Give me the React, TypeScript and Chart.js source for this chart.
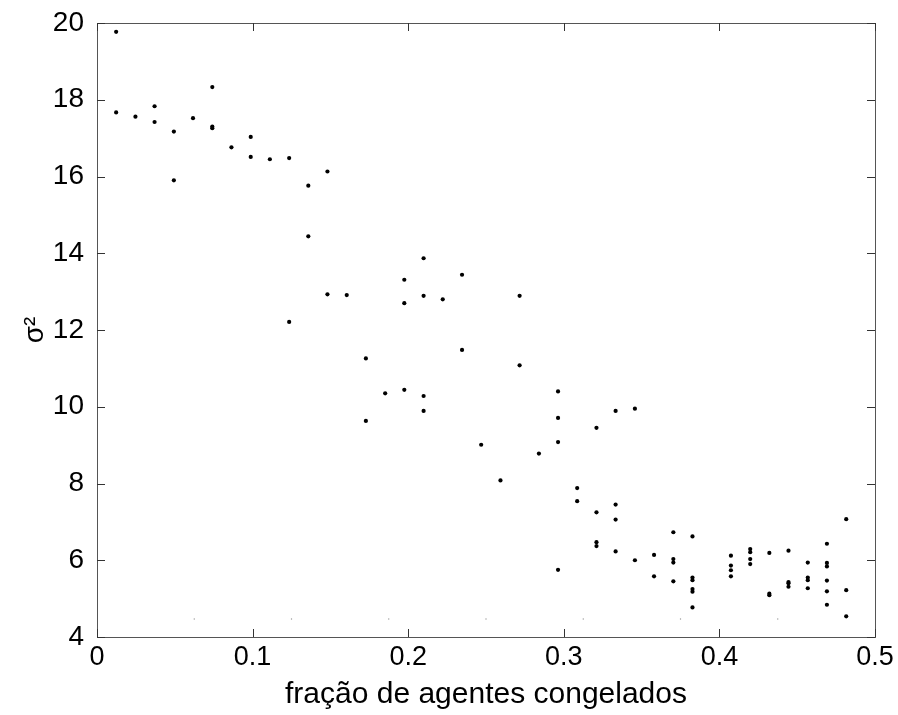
import React, { useEffect, useRef } from "react";
import { Chart, registerables } from "chart.js";

Chart.register(...registerables);

// fraction of frozen agents (x) and sigma^2 (y)
const fractionFrozen: number[] = [
  0.0123, 0.0123,
  0.0247,
  0.0370, 0.0370,
  0.0494, 0.0494,
  0.0617,
  0.0741, 0.0741, 0.0741,
  0.0864,
  0.0988, 0.0988,
  0.1111,
  0.1235, 0.1235,
  0.1358, 0.1358,
  0.1481, 0.1481,
  0.1605,
  0.1728, 0.1728,
  0.1852,
  0.1975, 0.1975, 0.1975,
  0.2099, 0.2099, 0.2099, 0.2099,
  0.2222,
  0.2346, 0.2346,
  0.2469,
  0.2593,
  0.2716, 0.2716,
  0.2840,
  0.2963, 0.2963, 0.2963, 0.2963,
  0.3086, 0.3086,
  0.3210, 0.3210, 0.3210, 0.3210,
  0.3333, 0.3333, 0.3333, 0.3333,
  0.3457, 0.3457,
  0.3580, 0.3580,
  0.3704, 0.3704, 0.3704, 0.3704,
  0.3827, 0.3827, 0.3827, 0.3827, 0.3827, 0.3827,
  0.4074, 0.4074, 0.4074, 0.4074,
  0.4198, 0.4198, 0.4198, 0.4198,
  0.4321, 0.4321, 0.4321,
  0.4444, 0.4444, 0.4444, 0.4444,
  0.4568, 0.4568, 0.4568, 0.4568,
  0.4691, 0.4691, 0.4691, 0.4691, 0.4691, 0.4691,
  0.4815, 0.4815, 0.4815,
];

const sigma2: number[] = [
  19.77, 17.67,
  17.56,
  17.83, 17.42,
  17.17, 15.90,
  17.52,
  18.33, 17.30, 17.26,
  16.76,
  17.03, 16.51,
  16.45,
  16.48, 12.21,
  15.76, 14.44,
  16.13, 12.93,
  12.91,
  11.26, 9.63,
  10.35,
  13.31, 12.70, 10.44,
  13.87, 12.89, 10.28, 9.89,
  12.80,
  13.44, 11.48,
  9.01,
  8.08,
  12.89, 11.08,
  8.78,
  10.40, 9.71, 9.08, 5.75,
  7.88, 7.54,
  9.45, 7.25, 6.47, 6.37,
  9.89, 7.45, 7.06, 6.23,
  9.95, 6.00,
  6.14, 5.58,
  6.73, 6.03, 5.94, 5.45,
  6.62, 5.55, 5.48, 5.25, 5.18, 4.77,
  6.12, 5.86, 5.74, 5.58,
  6.29, 6.21, 6.03, 5.90,
  6.19, 5.13, 5.09,
  6.25, 5.43, 5.40, 5.31,
  5.94, 5.55, 5.48, 5.27,
  6.43, 5.93, 5.84, 5.47, 5.19, 4.84,
  7.07, 5.22, 4.54,
];

// faint marks near the bottom of the axes
const faintX: number[] = [0.0625, 0.125, 0.1875, 0.25, 0.3125, 0.375, 0.4375];
const faintY: number[] = [4.47, 4.47, 4.47, 4.47, 4.47, 4.47, 4.47];

const xTicks: number[] = [0, 0.1, 0.2, 0.3, 0.4, 0.5];
const xTickLabels: string[] = ["0", "0.1", "0.2", "0.3", "0.4", "0.5"];
const yTicks: number[] = [4, 6, 8, 10, 12, 14, 16, 18, 20];
const yTickLabels: string[] = ["4", "6", "8", "10", "12", "14", "16", "18", "20"];

const xTitle = "fração de agentes congelados";
const yTitle = "σ²";

const FONT = "'Liberation Sans', Arial, Helvetica, sans-serif";

const framePlugin = {
  id: "matlabFrame",
  afterDraw(chart: any) {
    const { ctx, chartArea } = chart;
    const { left, right, top, bottom } = chartArea;
    const xs = chart.scales.x;
    const ys = chart.scales.y;
    ctx.save();
    ctx.strokeStyle = "#555555";
    ctx.lineWidth = 1;
    ctx.strokeRect(Math.round(left) + 0.5, Math.round(top) + 0.5, Math.round(right - left), Math.round(bottom - top));
    const len = 8;
    ctx.strokeStyle = "#333333";
    ctx.beginPath();
    xTicks.forEach((v) => {
      const px = Math.round(xs.getPixelForValue(v)) + 0.5;
      ctx.moveTo(px, bottom);
      ctx.lineTo(px, bottom - len);
      ctx.moveTo(px, top);
      ctx.lineTo(px, top + len);
    });
    yTicks.forEach((v) => {
      const py = Math.round(ys.getPixelForValue(v)) + 0.5;
      ctx.moveTo(left, py);
      ctx.lineTo(left + len, py);
      ctx.moveTo(right, py);
      ctx.lineTo(right - len, py);
    });
    ctx.stroke();
    ctx.restore();
  },
};

const zeroPad = (s: any) => {
  s.paddingTop = 0;
  s.paddingBottom = 0;
  s.paddingLeft = 0;
  s.paddingRight = 0;
};

export default function App() {
  const canvasRef = useRef<HTMLCanvasElement | null>(null);

  useEffect(() => {
    if (!canvasRef.current) return;
    const pts = fractionFrozen.map((x, i) => ({ x, y: sigma2[i] }));
    const faint = faintX.map((x, i) => ({ x, y: faintY[i] }));
    const chart = new Chart(canvasRef.current, {
      type: "scatter",
      data: {
        datasets: [
          {
            data: pts,
            backgroundColor: "#000000",
            borderColor: "#000000",
            pointRadius: 2.1,
            pointBorderWidth: 0,
            pointStyle: "circle",
          },
          {
            data: faint,
            backgroundColor: "#9a9a9a",
            borderColor: "#9a9a9a",
            pointRadius: 0.7,
            pointBorderWidth: 0,
          },
        ],
      },
      options: {
        animation: false,
        responsive: false,
        maintainAspectRatio: false,
        layout: { padding: { left: 0, top: 23, right: 23, bottom: 0 } },
        plugins: { legend: { display: false }, tooltip: { enabled: false } },
        scales: {
          x: {
            type: "linear",
            min: 0,
            max: 0.5,
            afterBuildTicks: (s: any) => {
              s.ticks = xTicks.map((v) => ({ value: v }));
            },
            afterFit: (s: any) => {
              s.height = 78;
              zeroPad(s);
            },
            grid: { display: false, drawTicks: false },
            border: { display: false },
            ticks: {
              color: "#000000",
              padding: 4,
              maxRotation: 0,
              autoSkip: false,
              font: { family: FONT, size: 27 },
              callback: (v: any) => {
                const i = xTicks.indexOf(Number(v));
                return i >= 0 ? xTickLabels[i] : "";
              },
            },
            title: {
              display: true,
              text: xTitle,
              color: "#000000",
              padding: { top: 0, bottom: 2 },
              font: { family: FONT, size: 30 },
            },
          },
          y: {
            type: "linear",
            min: 4,
            max: 20,
            afterBuildTicks: (s: any) => {
              s.ticks = yTicks.map((v) => ({ value: v }));
            },
            afterFit: (s: any) => {
              s.width = 97;
              zeroPad(s);
            },
            grid: { display: false, drawTicks: false },
            border: { display: false },
            ticks: {
              color: "#000000",
              padding: 13,
              autoSkip: false,
              font: { family: FONT, size: 28 },
              callback: (v: any) => {
                const i = yTicks.indexOf(Number(v));
                return i >= 0 ? yTickLabels[i] : "";
              },
            },
            title: {
              display: true,
              text: yTitle,
              color: "#000000",
              padding: { top: 18, bottom: 0 },
              font: { family: FONT, size: 28 },
            },
          },
        },
      },
      plugins: [framePlugin],
    });
    return () => chart.destroy();
  }, []);

  return (
    <div style={{ position: "fixed", left: 0, top: 0, width: 898, height: 715, background: "#ffffff" }}>
      <canvas ref={canvasRef} width={898} height={715} style={{ width: 898, height: 715, display: "block" }} />
    </div>
  );
}
